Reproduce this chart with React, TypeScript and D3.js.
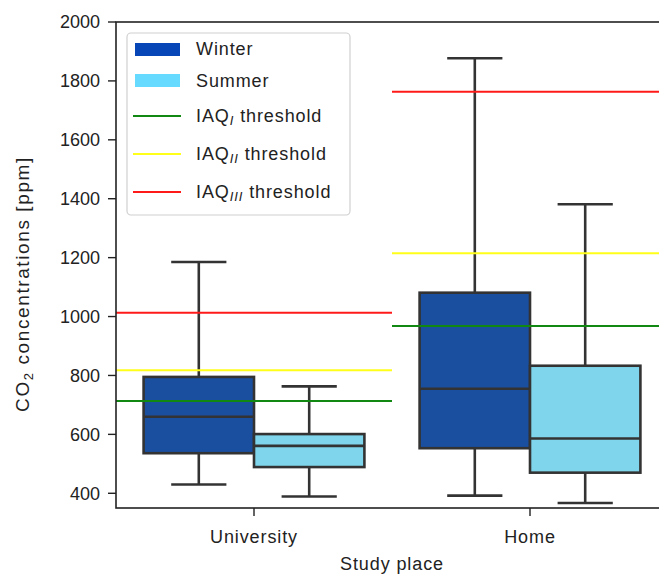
import React from "react";
import * as d3 from "d3";

const places = ["University", "Home"];
const seasons = ["Winter", "Summer"];
// [lowerWhisker, q1, median, q3, upperWhisker] per place, per season
const winterStats = [
  [430, 536, 660, 795, 1185],
  [392, 553, 755, 1081, 1877],
];
const summerStats = [
  [389, 489, 561, 601, 763],
  [367, 470, 586, 833, 1381],
];
const thresholdI = [713, 968];
const thresholdII = [818, 1215];
const thresholdIII = [1013, 1763];
const yTicks = [400, 600, 800, 1000, 1200, 1400, 1600, 1800, 2000];

const W = 659;
const H = 576;
const left = 116;
const right = 668;
const top = 22;
const bottom = 508;

const boxFill = ["#1a4fa0", "#7fd6ec"];
const legendFill = ["#0646b6", "#66dbff"];
const thrColors = ["#118811", "#ffff1a", "#ff1a1a"];
const edge = "#333333";
const font = "'Liberation Sans', Arial, sans-serif";
const fs = 18;
const ls = 0.9;

export default function App() {
  const x = d3.scaleLinear().domain([-0.5, 1.5]).range([left, right]);
  const y = d3.scaleLinear().domain([350, 2000]).range([bottom, top]);
  const statsBySeason = [winterStats, summerStats];
  const thresholds = [thresholdI, thresholdII, thresholdIII];
  const boxW = x(0.4) - x(0);

  return (
    <svg width={W} height={H} style={{ position: "absolute", left: 0, top: 0, background: "#fff" }}>
      <defs>
        <clipPath id="plot">
          <rect x={left} y={top} width={right - left} height={bottom - top} />
        </clipPath>
      </defs>
      <g clipPath="url(#plot)">
        {places.map((p, i) =>
          seasons.map((s, j) => {
            const st = statsBySeason[j][i];
            const x0 = x(i - 0.4 + j * 0.4);
            const cx = x0 + boxW / 2;
            const capHalf = boxW / 4;
            return (
              <g key={p + s}>
                <line x1={cx} x2={cx} y1={y(st[3])} y2={y(st[4])} stroke={edge} strokeWidth={2.6} />
                <line x1={cx} x2={cx} y1={y(st[1])} y2={y(st[0])} stroke={edge} strokeWidth={2.6} />
                <line x1={cx - capHalf} x2={cx + capHalf} y1={y(st[4])} y2={y(st[4])} stroke={edge} strokeWidth={2.6} />
                <line x1={cx - capHalf} x2={cx + capHalf} y1={y(st[0])} y2={y(st[0])} stroke={edge} strokeWidth={2.6} />
                <rect
                  x={x0}
                  y={y(st[3])}
                  width={boxW}
                  height={y(st[1]) - y(st[3])}
                  fill={boxFill[j]}
                  stroke={edge}
                  strokeWidth={2.6}
                />
                <line x1={x0} x2={x0 + boxW} y1={y(st[2])} y2={y(st[2])} stroke={edge} strokeWidth={2.6} />
              </g>
            );
          })
        )}
        {thresholds.map((arr, k) =>
          places.map((p, i) => (
            <line
              key={k + p}
              x1={x(i - 0.5)}
              x2={x(i + 0.5)}
              y1={y(arr[i])}
              y2={y(arr[i])}
              stroke={thrColors[k]}
              strokeWidth={2}
            />
          ))
        )}
      </g>
      {/* frame */}
      <rect x={left} y={top} width={right - left} height={bottom - top} fill="none" stroke="#222" strokeWidth={1.6} />
      {/* y ticks */}
      {yTicks.map((t) => (
        <g key={t}>
          <line x1={left - 8} x2={left} y1={y(t)} y2={y(t)} stroke="#222" strokeWidth={1.4} />
          <text x={left - 16} y={y(t)} dy="0.36em" textAnchor="end" fontFamily={font} fontSize={fs} fill="#222">
            {t}
          </text>
        </g>
      ))}
      {/* x ticks */}
      {places.map((p, i) => (
        <g key={p}>
          <line x1={x(i)} x2={x(i)} y1={bottom} y2={bottom + 8} stroke="#222" strokeWidth={1.4} />
          <text x={x(i)} y={bottom + 35} textAnchor="middle" fontFamily={font} fontSize={fs} letterSpacing={ls} fill="#222">
            {p}
          </text>
        </g>
      ))}
      <text x={392} y={570} textAnchor="middle" fontFamily={font} fontSize={fs} letterSpacing={ls} fill="#222">
        Study place
      </text>
      <text
        transform={`translate(29, 284) rotate(-90)`}
        textAnchor="middle"
        fontFamily={font}
        fontSize={19}
        letterSpacing={1.6}
        fill="#222"
      >
        CO<tspan fontSize={13} dy={4}>2</tspan>
        <tspan dy={-4}> concentrations [ppm]</tspan>
      </text>
      {/* legend */}
      <g>
        <rect x={127} y={33} width={223} height={182} rx={4} fill="#fff" fillOpacity={0.85} stroke="#d0d0d0" strokeWidth={1.2} />
        {seasons.map((s, j) => (
          <g key={s}>
            <rect x={135} y={[43, 74][j]} width={45} height={13} fill={legendFill[j]} />
            <text x={196} y={[49, 81][j]} dy="0.36em" fontFamily={font} fontSize={fs} letterSpacing={ls} fill="#222">
              {s}
            </text>
          </g>
        ))}
        {["I", "II", "III"].map((sub, k) => {
          const ly = [116, 154, 192][k];
          return (
            <g key={sub}>
              <line x1={133} x2={181} y1={ly} y2={ly} stroke={thrColors[k]} strokeWidth={2.2} />
              <text x={196} y={ly} dy="0.36em" fontFamily={font} fontSize={fs} letterSpacing={ls} fill="#222">
                IAQ
                <tspan fontSize={13} fontStyle="italic" dy={3}>{sub}</tspan>
                <tspan dy={-3}> threshold</tspan>
              </text>
            </g>
          );
        })}
      </g>
    </svg>
  );
}
